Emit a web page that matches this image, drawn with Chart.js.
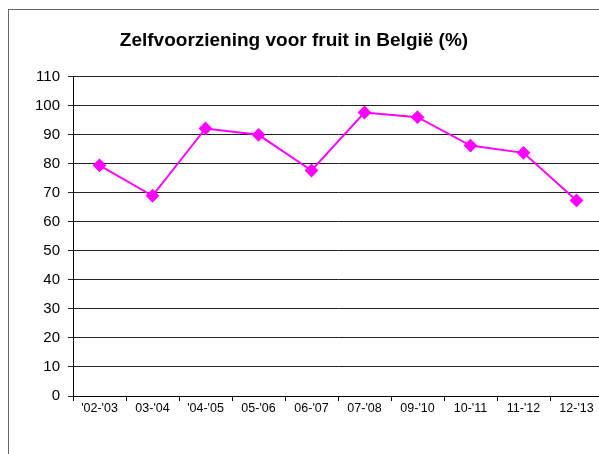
<!DOCTYPE html>
<html>
<head>
<meta charset="utf-8">
<script src="https://cdn.jsdelivr.net/npm/chart.js@4/dist/chart.umd.min.js"></script>
<style>
  html, body { margin: 0; padding: 0; background: #fff; overflow: hidden; width: 599px; height: 454px; }
  #frame { position: absolute; left: 8px; top: 9px; width: 700px; height: 600px; border: 1px solid #666; }
  #graph { position: absolute; left: -15px; top: 0; }
</style>
</head>
<body>
<div id="frame"></div>
<canvas id="graph" width="618" height="454"></canvas>
<script>
// seizoenen en zelfvoorzieningsgraad (%)
const seasons = ["'02-'03", "03-'04", "'04-'05", "05-'06", "06-'07", "07-'08", "09-'10", "10-'11", "11-'12", "12-'13"];
const selfSufficiency = [79.5, 69, 92.2, 90.0, 77.7, 97.7, 96.1, 86.3, 83.8, 67.4];
const yTicks = [0, 10, 20, 30, 40, 50, 60, 70, 80, 90, 100, 110];

const font = "'Liberation Sans', Arial, sans-serif";

const ctx = document.getElementById('graph').getContext('2d');
const chart = new Chart(ctx, {
    type: 'line',
    data: {
        labels: seasons,
        datasets: [{
            label: 'Zelfvoorziening',
            data: selfSufficiency,
            borderColor: '#ff00ff',
            backgroundColor: '#ff00ff',
            borderWidth: 2,
            tension: 0,
            pointStyle: 'rectRot',
            pointRadius: 5.5,
            pointHoverRadius: 5.5
        }]
    },
    options: {
        responsive: false,
        animation: false,
        events: [],
        layout: {
            autoPadding: false,
            padding: { left: 0, right: 0, top: 0, bottom: 38 }
        },
        plugins: {
            legend: { display: false },
            tooltip: { enabled: false },
            title: {
                display: true,
                text: 'Zelfvoorziening voor fruit in België (%)',
                color: '#000',
                font: { family: font, size: 19, weight: 'bold' },
                padding: { top: 29, bottom: 25 }
            }
        },
        scales: {
            x: {
                offset: true,
                border: { color: '#000', width: 1 },
                grid: {
                    offset: true,
                    drawOnChartArea: false,
                    color: '#000',
                    tickLength: 5
                },
                ticks: {
                    color: '#000',
                    font: { family: font, size: 12.5 },
                    padding: 0,
                    maxRotation: 0,
                    autoSkip: false
                }
            },
            y: {
                min: 0,
                max: 110,
                afterBuildTicks: (scale) => {
                    scale.ticks = yTicks.map(v => ({ value: v }));
                },
                afterFit: (scale) => { scale.width = 88; },
                border: { color: '#000', width: 1 },
                grid: {
                    color: '#222',
                    tickLength: 5
                },
                ticks: {
                    color: '#000',
                    font: { family: font, size: 15 },
                    padding: 8
                }
            }
        }
    }
});
</script>
</body>
</html>
